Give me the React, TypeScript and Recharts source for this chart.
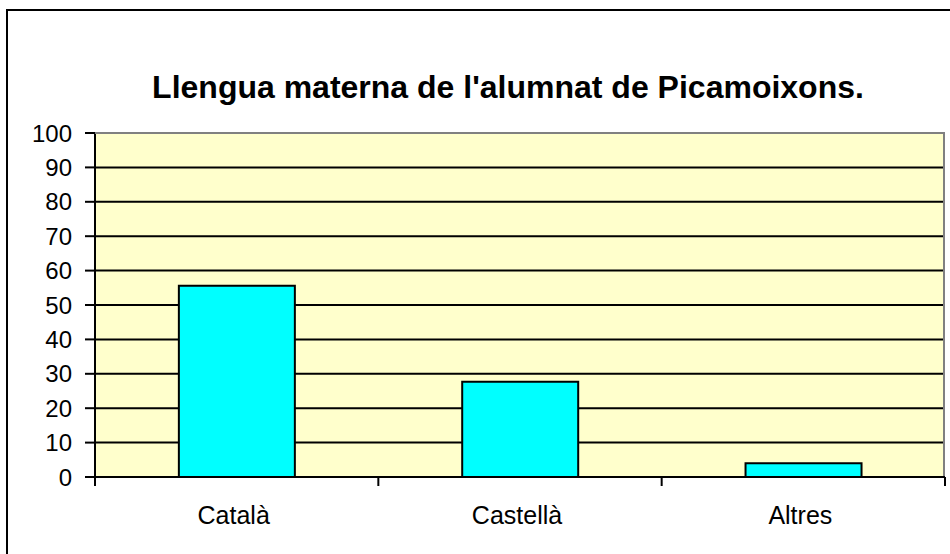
import React from "react";
import { Bar, BarChart, CartesianGrid, XAxis, YAxis } from "recharts";

const categories = ["Català", "Castellà", "Altres"];
const values = [55.6, 27.7, 4];
const yTicks = [0, 10, 20, 30, 40, 50, 60, 70, 80, 90, 100];
const title = "Llengua materna de l'alumnat de Picamoixons.";

const data = categories.map((name, i) => ({ name, value: values[i] }));

const FONT = "'Liberation Sans', Arial, sans-serif";
const PLOT_LEFT = 95;
const PLOT_RIGHT = 945;
const PLOT_TOP = 133;
const PLOT_BOTTOM = 477;
const BAND = (PLOT_RIGHT - PLOT_LEFT) / categories.length;

function CategoryTick(props: any) {
  const { x, y, payload, index } = props;
  const right = x + BAND / 2;
  const left = x - BAND / 2;
  return (
    <g>
      {index === 0 && (
        <line x1={left} x2={left} y1={y - 8} y2={y + 1} stroke="#000" strokeWidth={2} />
      )}
      <line x1={right} x2={right} y1={y - 8} y2={y + 1} stroke="#000" strokeWidth={2} />
      <text x={x - 3} y={y + 21} dy="0.71em" textAnchor="middle" fontSize={25} fontFamily={FONT} fill="#000">
        {payload.value}
      </text>
    </g>
  );
}

export default function App() {
  return (
    <div
      style={{
        position: "absolute",
        left: 0,
        top: 0,
        width: 950,
        height: 554,
        overflow: "hidden",
        background: "#fff",
      }}
    >
      <div
        style={{
          position: "absolute",
          left: 6,
          top: 9,
          width: 1000,
          height: 600,
          border: "2px solid #000",
        }}
      />
      <div
        style={{
          position: "absolute",
          left: 0,
          top: 69,
          width: 1016,
          textAlign: "center",
          fontFamily: FONT,
          fontWeight: "bold",
          fontSize: 32,
          lineHeight: "36px",
          color: "#000",
        }}
      >
        {title}
      </div>
      <div style={{ position: "absolute", left: 0, top: 0 }}>
        <BarChart
          width={950}
          height={554}
          data={data}
          margin={{ top: PLOT_TOP, right: 950 - PLOT_RIGHT, left: 0, bottom: 0 }}
          barCategoryGap="29.6%"
        >
          <CartesianGrid
            vertical={false}
            stroke="#000"
            strokeWidth={2}
            fill="#FFFFCC"
            fillOpacity={1}
          />
          <XAxis
            dataKey="name"
            height={554 - PLOT_BOTTOM}
            axisLine={{ stroke: "#000", strokeWidth: 2 }}
            tickLine={false}
            tick={<CategoryTick />}
            interval={0}
          />
          <YAxis
            width={PLOT_LEFT}
            domain={[0, 100]}
            ticks={yTicks}
            interval={0}
            axisLine={{ stroke: "#000", strokeWidth: 2 }}
            tickLine={{ stroke: "#000", strokeWidth: 2 }}
            tickSize={10}
            tickMargin={13}
            tick={{ fontSize: 24, fontFamily: FONT, fill: "#000" }}
          />
          <Bar dataKey="value" fill="#00FFFF" stroke="#000" strokeWidth={2} isAnimationActive={false} />
        </BarChart>
      </div>
      <div
        style={{
          position: "absolute",
          left: PLOT_LEFT,
          top: PLOT_TOP - 1,
          width: PLOT_RIGHT - PLOT_LEFT,
          height: PLOT_BOTTOM - PLOT_TOP,
          borderTop: "2px solid #808080",
          borderRight: "2px solid #808080",
          boxSizing: "border-box",
          pointerEvents: "none",
        }}
      />
    </div>
  );
}
